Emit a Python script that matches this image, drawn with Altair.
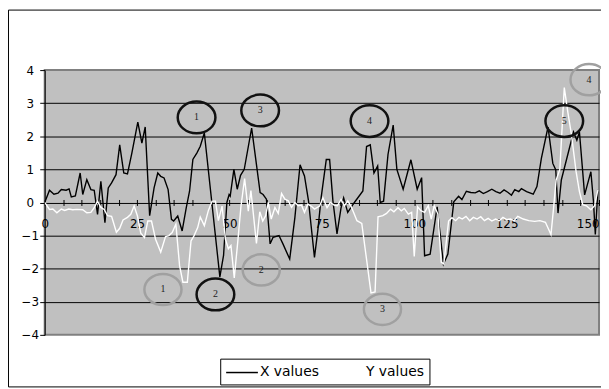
import altair as alt
import pandas as pd

# ---- X values series (black line) ----
x_t = [0, 1.3, 2.5, 3.6, 4.5, 5.8, 6.6, 7.2, 8.3, 9.6, 10.3, 11.4, 12.5, 13.4, 14.3, 15.2,
       16.3, 17.2, 18.1, 19.3, 20.3, 21.4, 22.4, 23.6, 25.2, 26.3, 27.2, 28.4, 29.6, 30.6,
       31.4, 32.3, 33.4, 34.3, 34.9, 36.0, 37.2, 38.3, 39.2, 40.1, 41.2, 42.1, 43.2, 47.4,
       48.4, 49.3, 49.9, 50.2, 51.2, 52.1, 53.0, 54.0, 56.0, 58.3, 59.1, 60.0, 61.0, 61.8,
       63.4, 64.5, 66.3, 67.7, 69.1, 70.3, 71.4, 72.1, 73.0, 73.9, 74.8, 76.2, 77.1, 78.0,
       79.1, 80.2, 80.9, 82.0, 83.8, 86.1, 87.1, 88.1, 89.1, 90.1, 90.8, 91.7, 92.9, 94.3,
       95.3, 97.0, 99.1, 100.8, 102.0, 102.8, 104.3, 106.2, 107.9, 109.1, 110.7, 112.0,
       112.9, 114.1, 115.3, 116.5, 117.6, 118.7, 119.8, 121.0, 122.1, 123.2, 124.3, 125.4,
       126.3, 127.2, 128.3, 129.0, 130.4, 132.2, 133.2, 134.4, 136.2, 137.5, 138.3, 138.9,
       139.8, 143.1, 144.0, 144.7, 146.1, 147.8, 148.5, 149.0, 149.7]
x_v = [0.0, 0.37, 0.25, 0.28, 0.39, 0.37, 0.41, 0.17, 0.2, 0.89, 0.24, 0.69, 0.39, 0.37, -0.36, 0.64,
       -0.61, 0.44, 0.59, 0.84, 1.74, 0.89, 0.86, 1.5, 2.43, 1.79, 2.28, -0.4, 0.44, 0.89,
       0.79, 0.74, 0.39, -0.51, -0.56, -0.41, -0.86, -0.16, 0.34, 1.3, 1.5, 1.7, 2.1, -2.25,
       -1.6, 0.0, 0.24, 0.19, 1.0, 0.4, 0.82, 1.0, 2.25, 0.3, 0.24, 0.1, -1.25, -1.05,
       -1.0, -1.26, -1.71, -0.46, 1.14, 0.8, 0.04, -0.71, -1.66, -0.86, 0.14, 1.3, 1.3, 0.04,
       -0.95, -0.16, 0.14, -0.3, 0.0, 0.35, 1.69, 1.74, 0.89, 1.1, 0.0, 0.04, 1.45, 2.34,
       1.0, 0.4, 1.29, 0.4, 0.75, -1.61, -1.56, -0.13, -1.86, -1.56, 0.02, 0.19,
       0.09, 0.34, 0.3, 0.29, 0.35, 0.27, 0.33, 0.4, 0.33, 0.28, 0.38, 0.3,
       0.22, 0.39, 0.33, 0.42, 0.33, 0.25, 0.48, 1.33, 2.28, 1.18, 0.98, -0.32,
       0.68, 2.13, 1.88, 2.13, 0.23, 0.93, 0.03, -0.97, 0.38]

# ---- Y values series (white line) ----
y_t = [0, 1.3, 2.2, 3.3, 4.5, 5.4, 6.5, 7.6, 8.7, 10.3, 11.4, 12.5, 13.4, 14.3, 15.2, 16.1,
       17.0, 18.1, 19.4, 20.3, 21.2, 22.4, 23.3, 24.2, 25.1, 26.0, 27.0, 27.9, 28.9, 30.0,
       31.4, 32.7, 33.6, 34.5, 35.5, 36.5, 37.4, 38.6, 39.6, 40.4, 41.4, 42.1, 43.2, 44.3,
       45.3, 46.2, 47.0, 48.0, 48.9, 49.7, 50.4, 51.3, 52.2, 53.1, 54.1, 55.1, 55.8, 57.3,
       58.2, 59.0, 59.8, 60.5, 61.3, 62.3, 63.2, 64.1, 65.0, 65.9, 66.8, 67.7, 68.6, 69.5,
       70.3, 71.2, 72.1, 73.0, 74.4, 75.3, 76.4, 77.3, 78.3, 79.2, 80.2, 81.1, 82.0, 82.9,
       83.6, 84.5, 85.8, 88.3, 89.4, 90.2, 91.5, 92.5, 93.6, 94.5, 95.6, 96.5, 97.3, 98.4,
       99.3, 100.0, 100.9, 101.8, 102.8, 103.8, 104.6, 105.4, 106.4, 107.3, 108.0, 109.3,
       110.2, 111.2, 112.1, 113.0, 114.0, 115.0, 116.0, 117.0, 118.0, 119.0, 120.0, 121.0,
       122.0, 123.0, 124.0, 125.0, 126.0, 127.0, 128.0, 129.5, 131.0, 132.6, 134.0, 135.5,
       137.0, 137.7, 138.4, 139.4, 140.6, 141.6, 142.5, 143.8, 144.7, 145.6, 146.6, 147.8,
       148.8, 149.7]
y_v = [0.0, -0.21, -0.2, -0.31, -0.2, -0.24, -0.2, -0.22, -0.21, -0.22, -0.31, -0.3, -0.16, 0.04, -0.15, -0.21,
       -0.4, -0.42, -0.9, -0.78, -0.53, -0.45, -0.36, -0.11, -0.41, -0.93, -1.06, -0.56, -0.56, -1.11,
       -1.5, -1.03, -1.0, -0.91, -0.66, -1.91, -2.41, -2.41, -1.16, -1.01, -0.76, -0.44, -0.7, -0.24,
       0.04, 0.04, -0.55, -0.11, -1.11, -1.4, -1.3, -2.28, -1.24, -0.13, 0.72, -0.26, 0.36, -1.24,
       -0.28, -0.56, -0.4, 0.0, -0.5, -0.15, -0.33, 0.27, 0.1, 0.05, -0.15, 0.0, -0.1, -0.08,
       -0.3, -0.05, -0.11, -0.2, -0.11, 0.14, -0.16, 0.0, -0.08, -0.1, 0.09, -0.1, 0.05, -0.12,
       -0.3, -0.55, -0.63, -2.73, -2.7, -0.43, -0.4, -0.33, -0.2, -0.28, -0.16, -0.25, -0.18, -0.35,
       -0.3, -1.63, -0.13, -0.25, -0.3, -0.1, -0.5, -0.1, -0.35, -1.8, -1.86, -0.56,
       -0.46, -0.55, -0.45, -0.5, -0.42, -0.55, -0.45, -0.5, -0.43, -0.55, -0.48, -0.56,
       -0.5, -0.55, -0.45, -0.52, -0.5, -0.55, -0.42, -0.5, -0.55, -0.57, -0.55, -0.6,
       -0.97, -0.17, 0.68, 1.0, 3.47, 2.7, 2.08, 0.93, 0.33, -0.07, -0.1, -0.22,
       -0.1, 0.38]

series_names = ["X values", "Y values"]
series_colors = ["#000000", "#ffffff"]

# ---- annotation ellipses ----
black_t = [41.1, 46.2, 58.3, 87.9, 140.6]
black_v = [2.57, -2.78, 2.78, 2.46, 2.46]
black_lab = ["1", "2", "3", "4", "5"]
gray_t = [32.0, 58.6, 91.4, 147.3]
gray_v = [-2.63, -2.04, -3.23, 3.71]
gray_lab = ["1", "2", "3", "4"]

x_ticks = list(range(0, 151, 5))
y_ticks = list(range(-4, 5))

df_x = pd.DataFrame({"t": x_t, "v": x_v, "series": series_names[0], "o": range(len(x_t))})
df_y = pd.DataFrame({"t": y_t, "v": y_v, "series": series_names[1], "o": range(len(y_t))})
df = pd.concat([df_x, df_y], ignore_index=True)
df_b = pd.DataFrame({"t": black_t, "v": black_v, "lab": black_lab})
df_g = pd.DataFrame({"t": gray_t, "v": gray_v, "lab": gray_lab})

FONT = "DejaVu Sans"
ELLIPSE = "M-1,0A1,0.842,0,1,1,1,0A1,0.842,0,1,1,-1,0Z"
LEGEND_LINE = "M-1,0L3,0"

xscale = alt.Scale(domain=[0, 150], nice=False, zero=False)
yscale = alt.Scale(domain=[-4, 4], nice=False, zero=False)

xaxis = alt.Axis(
    values=x_ticks, labelExpr="datum.value % 25 === 0 ? datum.label : ''",
    labelAlign={"condition": {"test": "datum.value >= 150", "value": "right"}, "value": "center"},
    offset=-136.5, tickSize=6, tickColor="#000000", domain=False, grid=False,
    labelFont=FONT, labelFontSize=12, labelColor="#000000", labelPadding=13,
    labelFlush=False, labelOverlap=False, title=None)
yaxis = alt.Axis(
    values=y_ticks, grid=True, gridColor="#000000", gridWidth=1,
    gridOpacity={"condition": {"test": "abs(datum.value) >= 4", "value": 0}, "value": 1},
    domainColor="#000000", tickColor="#000000", tickSize=5,
    labelAlign="center", labelPadding=10, labelFont=FONT, labelFontSize=12,
    labelColor="#000000", labelOverlap=False, title=None)

X = alt.X("t:Q", scale=xscale, axis=xaxis)
Y = alt.Y("v:Q", scale=yscale, axis=yaxis)

lines = alt.Chart(df).mark_line(strokeWidth=1.4, clip=True).encode(
    x=X, y=Y,
    color=alt.Color("series:N", scale=alt.Scale(domain=series_names, range=series_colors),
                    legend=alt.Legend(orient="none", legendX=177, legendY=291,
                                      direction="horizontal", title=None,
                                      fillColor="#ffffff", strokeColor="#000000",
                                      padding=5, symbolType=LEGEND_LINE, symbolSize=256,
                                      symbolStrokeWidth=1.5, labelFont=FONT,
                                      labelFontSize=14, labelColor="#000000",
                                      columnPadding=10, labelOffset=17)),
    order=alt.Order("o:Q"),
)

ell_b = alt.Chart(df_b).mark_point(shape=ELLIPSE, size=1444, filled=False,
                                   stroke="#111111", strokeWidth=2.5, opacity=1).encode(x=X, y=Y)
ell_g = alt.Chart(df_g).mark_point(shape=ELLIPSE, size=1400, filled=False,
                                   stroke="#a0a0a0", strokeWidth=2.5, opacity=1).encode(x=X, y=Y)
txt_b = alt.Chart(df_b).mark_text(font="Liberation Serif", fontSize=10, color="#222222").encode(
    x=X, y=Y, text="lab:N")
txt_g = alt.Chart(df_g).mark_text(font="Liberation Serif", fontSize=10, color="#222222").encode(
    x=X, y=Y, text="lab:N")

frame = alt.Chart(pd.DataFrame({"k": [0]})).mark_rect(
    fill=None, stroke="#000000", strokeWidth=1).encode(
    x=alt.value(-36.5), x2=alt.value(580), y=alt.value(-60.5), y2=alt.value(319.5))

chart = alt.layer(frame, lines, ell_b, ell_g, txt_b, txt_g).properties(
    width=559, height=267,
    autosize=alt.AutoSizeParams(type="none"),
    padding={"left": 37, "top": 61, "right": 2, "bottom": 53},
    background="#ffffff",
).configure_view(fill="#c0c0c0", stroke="#808080", strokeWidth=2)

chart.save("out.html", embed_options={"renderer": "svg", "actions": False})
